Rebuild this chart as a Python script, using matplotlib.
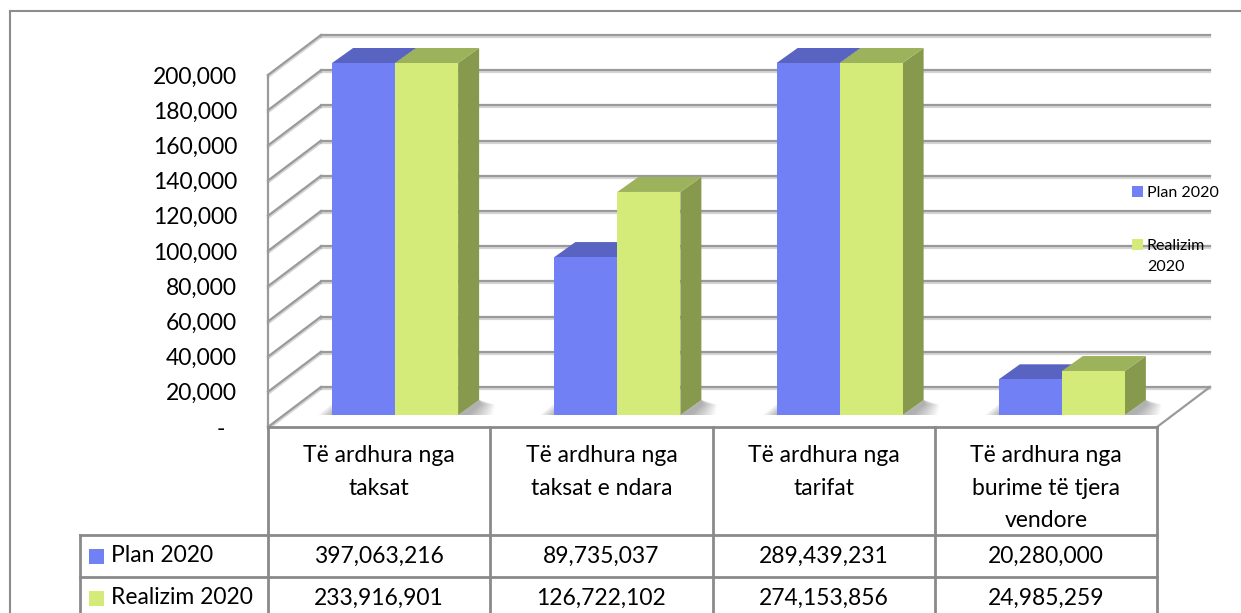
import numpy as np
import matplotlib.pyplot as plt
import matplotlib.transforms as mtransforms
import matplotlib.patheffects as pe
from matplotlib.patches import Polygon, Rectangle
from matplotlib.lines import Line2D

plt.rcParams['font.family'] = ['Lato', 'DejaVu Sans']

# data
categories = ['Të ardhura nga\ntaksat', 'Të ardhura nga\ntaksat e ndara',
              'Të ardhura nga\ntarifat', 'Të ardhura nga\nburime të tjera\nvendore']
series_names = ['Plan 2020', 'Realizim 2020']
legend_labels = ['Plan 2020', 'Realizim\n2020']
plan_2020 = [397063216, 89735037, 289439231, 20280000]
realizim_2020 = [233916901, 126722102, 274153856, 24985259]
y_ticks = [0, 20000, 40000, 60000, 80000, 100000, 120000, 140000, 160000, 180000, 200000]
y_max = 200000

W, H = 1241, 613
fig = plt.figure(figsize=(W / 100, H / 100), dpi=100)

def fx(px):
    return px / W

def fy(py):
    return 1 - py / H

# outer frame (only left and top visible)
frame_c = '#8c8c8c'
fig.add_artist(Line2D([fx(10), fx(10)], [0, fy(11)], color=frame_c, lw=1.5))
fig.add_artist(Line2D([fx(10), 1], [fy(11), fy(11)], color=frame_c, lw=1.5))

# front plane of the 3d box
x_left, x_right, y_bot, y_top = 268, 1157, 427, 75
ax = fig.add_axes([fx(x_left), fy(y_bot), fx(x_right - x_left), (y_bot - y_top) / H])
n = len(categories)
ax.set_xlim(0, n)
ax.set_ylim(0, y_max)
for s in ax.spines.values():
    s.set_visible(False)
ax.set_xticks([])
ax.set_yticks(y_ticks)
ax.set_yticklabels(['-\u2002' if v == 0 else f'{v:,}' for v in y_ticks], fontsize=16.5)
ax.tick_params(axis='y', length=0, pad=22.3)

px_per_cat = (x_right - x_left) / n
px_per_y = (y_bot - y_top) / y_max
DX = 53 / px_per_cat
DY = 40 / px_per_y

grid_c = '#9a9a9a'
shadow = [pe.SimpleLineShadow(offset=(0, -1.5), shadow_color='#888888', alpha=0.35), pe.Normal()]

# walls and floor
for v in y_ticks:
    ax.plot([0, DX], [v, v + DY], color=grid_c, lw=1.6, clip_on=False, path_effects=shadow, zorder=1)
    ax.plot([DX, n + DX], [v + DY, v + DY], color=grid_c, lw=1.6, clip_on=False, path_effects=shadow, zorder=1)
ax.plot([n, n + DX], [0, DY], color=grid_c, lw=1.6, clip_on=False, zorder=1)
ax.plot([0, 0], [0, y_max], color=grid_c, lw=1.6, clip_on=False, zorder=1)

# bars
bx0 = 16 / px_per_cat
by0 = 12 / px_per_y
bdx = 21 / px_per_cat
bdy = 15 / px_per_y
bw = 63 / px_per_cat

plan_h = np.minimum(np.array(plan_2020) / 1000, y_max)
real_h = np.minimum(np.array(realizim_2020) / 1000, y_max)

colors = {
    'Plan 2020': ('#7180f5', '#5863c2', '#4d57a8'),
    'Realizim 2020': ('#d4eb7a', '#9db35b', '#87994c'),
}

def draw_bar(x0, h, cols, z):
    front, top, side = cols
    xf = x0 + bx0
    yb = by0
    yt = by0 + h
    ax.add_patch(Polygon([(xf + bw, yb), (xf + bw + bdx, yb + bdy), (xf + bw + bdx, yt + bdy), (xf + bw, yt)],
                         closed=True, facecolor=side, edgecolor='none', clip_on=False, zorder=z))
    ax.add_patch(Polygon([(xf, yt), (xf + bdx, yt + bdy), (xf + bw + bdx, yt + bdy), (xf + bw, yt)],
                         closed=True, facecolor=top, edgecolor='none', clip_on=False, zorder=z))
    ax.add_patch(Rectangle((xf, yb), bw, h, facecolor=front, edgecolor='none', clip_on=False, zorder=z))

def draw_shadow(x0, x1):
    # soft shadow on the floor, right of the group and a little left of it
    xr = x1 + bx0
    xl = x0 + bx0
    steps = 14
    for k in range(steps):
        t = (k + 1) / steps
        L = (26 * (1 - t) + 2) / px_per_cat
        ax.add_patch(Polygon([(xr, by0), (xr + bdx * 0.4 + L, by0), (xr + bdx + L * 0.6, by0 + bdy * 0.7),
                              (xr + bdx, by0 + bdy)],
                             closed=True, facecolor='#606060', edgecolor='none', alpha=0.045,
                             clip_on=False, zorder=2))
        Ll = (14 * (1 - t) + 1) / px_per_cat
        ax.add_patch(Polygon([(xl - Ll, by0), (xl, by0), (xl, by0 + (10 * (1 - t) + 2) / px_per_y)],
                             closed=True, facecolor='#606060', edgecolor='none', alpha=0.035,
                             clip_on=False, zorder=2))

for i in range(n):
    x0 = i + (1 - 2 * bw) / 2
    draw_shadow(x0, x0 + 2 * bw)
    draw_bar(x0, plan_h[i], colors['Plan 2020'], 3 + i)
    draw_bar(x0 + bw, real_h[i], colors['Realizim 2020'], 3 + i)

# data table below the chart
trans = mtransforms.blended_transform_factory(ax.transData, fig.transFigure)
line_c = '#8a8a8a'
lbl_x = (80 - x_left) / px_per_cat
hdr_bot, row1_bot, row2_bot = 535, 577, 625

def hline(x0, x1, py):
    fig.add_artist(Line2D([x0, x1], [fy(py), fy(py)], transform=trans, color=line_c, lw=2))

def vline(x, py0, py1):
    fig.add_artist(Line2D([x, x], [fy(py0), fy(py1)], transform=trans, color=line_c, lw=2))

hline(0, n, y_bot)
hline(lbl_x, n, hdr_bot)
hline(lbl_x, n, row1_bot)
for i in range(n + 1):
    vline(i, y_bot, row2_bot)
vline(lbl_x, hdr_bot, row2_bot)

for i, cat in enumerate(categories):
    fig.text(i + 0.5, fy(445), cat, transform=trans, ha='center', va='top',
             fontsize=16.5, linespacing=1.69)

row_y = [556, 598]
for r, (name, vals) in enumerate(zip(series_names, [plan_2020, realizim_2020])):
    yc = fy(row_y[r])
    fig.add_artist(Rectangle((fx(89), yc - 7.5 / H), fx(15), 15 / H, transform=fig.transFigure,
                             facecolor=colors[name][0], edgecolor='none'))
    fig.text(fx(111), yc, name, ha='left', va='center', fontsize=16.5)
    for i, v in enumerate(vals):
        fig.text(i + 0.5, yc, f'{v:,}', transform=trans, ha='center', va='center', fontsize=16.5)

# legend on the right
leg_y = [191, 244]
for k, name in enumerate(series_names):
    yc = fy(leg_y[k])
    fig.add_artist(Rectangle((fx(1132), yc - 5.5 / H), fx(11), 11 / H, transform=fig.transFigure,
                             facecolor=colors[name][0], edgecolor='none'))
    fig.text(fx(1147), yc + 5 / H, legend_labels[k], ha='left', va='top', fontsize=11.5, linespacing=1.66)

fig.savefig('out.png', dpi=100)
